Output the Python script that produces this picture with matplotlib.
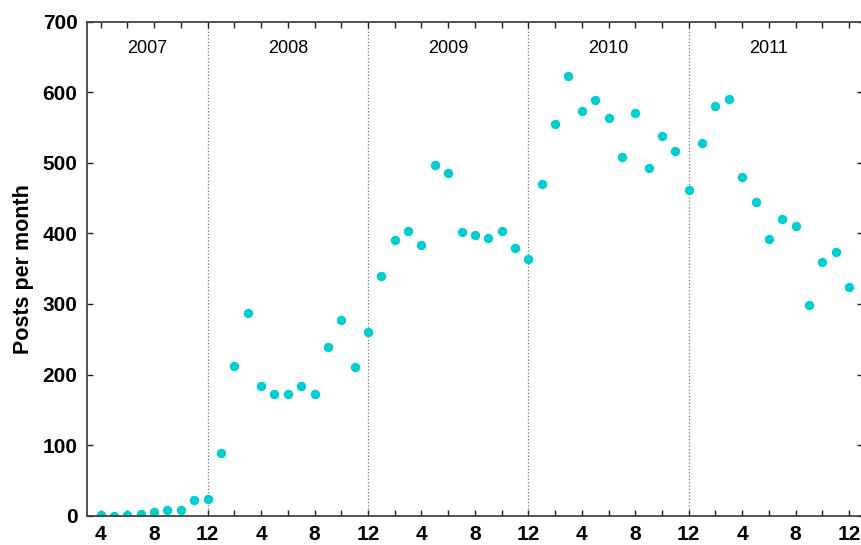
import matplotlib.pyplot as plt
import numpy as np

# Posts per month, 2007-04 .. 2011-12
years = ['2007', '2008', '2009', '2010', '2011']
posts_2007 = [1, 0, 1, 2, 5, 8, 8, 22, 24]            # months 4..12
posts_2008 = [89, 212, 287, 184, 173, 172, 184, 172, 239, 277, 211, 260]
posts_2009 = [340, 391, 403, 383, 497, 485, 402, 398, 393, 404, 379, 364]
posts_2010 = [470, 555, 623, 573, 589, 564, 508, 570, 492, 538, 517, 461]
posts_2011 = [528, 581, 591, 480, 444, 392, 421, 410, 299, 360, 374, 324]

posts = posts_2007 + posts_2008 + posts_2009 + posts_2010 + posts_2011
# running month number, 2007-01 = 1
t = np.arange(4, 4 + len(posts))

plt.rcParams['font.family'] = ['Liberation Sans', 'DejaVu Sans']

fig = plt.figure(figsize=(8.61, 5.45), dpi=100)
ax = fig.add_axes([87.3 / 861, 29.3 / 545, (862.5 - 87.3) / 861, 494 / 545])

ax.plot(t, posts, 'o', color='#00CED1', markersize=6.8, markeredgewidth=0)

# year separators
for m in [12, 24, 36, 48]:
    ax.axvline(m, color='#777777', linestyle=':', linewidth=0.9, zorder=0)

# year labels
year_pos = [7.5, 18, 30, 42, 54]
for x, y in zip(year_pos, years):
    ax.text(x, 662, y, ha='center', va='center', fontsize=13)

ax.set_xlim(3, 61)
ax.set_ylim(0, 700)

xt = np.arange(4, 61, 4)
ax.set_xticks(xt)
ax.set_xticklabels([str((m - 1) % 12 + 1) for m in xt], fontsize=15, fontweight='bold')
ax.set_xticks(np.arange(4, 61, 2), minor=True)
ax.set_yticks(np.arange(0, 701, 100))
ax.set_yticklabels([str(v) for v in range(0, 701, 100)], fontsize=15, fontweight='bold')

ax.tick_params(axis='both', which='both', direction='in', top=True, right=True,
               length=4, width=1, color='#222222')
ax.tick_params(axis='x', which='major', pad=7)
ax.tick_params(axis='y', which='major', pad=7)

for s in ax.spines.values():
    s.set_color('#444444')
    s.set_linewidth(1.3)

ax.set_ylabel('Posts per month', fontsize=15.5, fontweight='bold', labelpad=6)

plt.savefig('out.png', dpi=100)
